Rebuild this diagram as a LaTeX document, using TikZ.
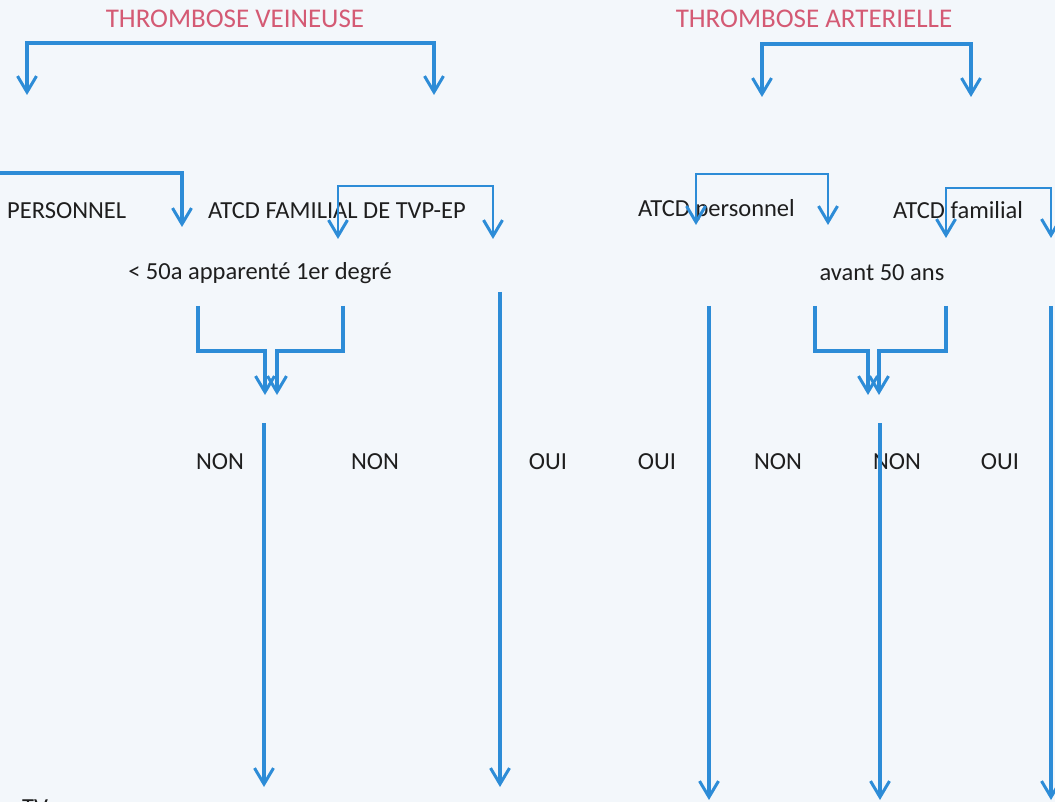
\documentclass[tikz,border=0pt]{standalone}
\usepackage{fontspec}
\setmainfont{Carlito}
\usetikzlibrary{arrows.meta}
\definecolor{bg}{RGB}{243,247,251}
\definecolor{ln}{RGB}{45,140,215}
\definecolor{ttl}{RGB}{212,90,116}
\definecolor{txt}{RGB}{30,30,30}
\tikzset{
  vtip/.tip={Straight Barb[length=16pt,width=19pt,line width=3pt].},
  thickln/.style={draw=ln,line width=3.5pt,line join=miter},
  thinln/.style={draw=ln,line width=2pt,line join=miter},
  title/.style={text=ttl,font=\fontsize{27}{30}\selectfont,inner sep=0pt},
  lbl/.style={text=txt,font=\fontsize{24.5}{28}\selectfont,inner sep=0pt},
}
\begin{document}
\begin{tikzpicture}[x=1pt,y=-1pt]
\fill[bg] (0,0) rectangle (1055,802);
\useasboundingbox (0,0) rectangle (1055,802);
% titles
\node[title] (tv) at (235,19) {THROMBOSE VEINEUSE};
\node[title] (ta) at (814,19) {THROMBOSE ARTERIELLE};
% row 2 labels
\node[lbl,anchor=west] (pers) at (7,211) {PERSONNEL};
\node[lbl,anchor=west] (fam) at (208,211) {ATCD FAMILIAL DE TVP-EP};
\node[lbl] (app) at (260,273) {< 50a apparenté 1er degré};
\node[lbl,anchor=west] (atcdp) at (638,210) {ATCD personnel};
\node[lbl,anchor=west] (atcdf) at (893,210) {ATCD familial};
\node[lbl] (avant) at (882,273) {avant 50 ans};
% answers
\node[lbl] (n1) at (220,462) {NON};
\node[lbl] (n2) at (375,462) {NON};
\node[lbl] (o1) at (548,462) {OUI};
\node[lbl] (o2) at (657,462) {OUI};
\node[lbl] (n3) at (778,462) {NON};
\node[lbl] (n4) at (897,462) {NON};
\node[lbl] (o3) at (1000,462) {OUI};
\node[lbl,anchor=base west] (tvb) at (22,815) {TV};
% coordinates
\coordinate (a1) at (27,95);   \coordinate (a2) at (434,95);
\coordinate (b1) at (762,97);  \coordinate (b2) at (971,97);
\coordinate (c0) at (0,173);   \coordinate (c1) at (182,227);
\coordinate (d1) at (338,239); \coordinate (d2) at (493,239);
\coordinate (e1) at (696,225); \coordinate (e2) at (828,225);
\coordinate (f1) at (946,238); \coordinate (f2) at (1051,238);
\coordinate (g1) at (198,306); \coordinate (g2) at (343,306);
\coordinate (gl) at (265,395); \coordinate (gr) at (277,395);
\coordinate (h1) at (815,306); \coordinate (h2) at (946,306);
\coordinate (hl) at (868,395); \coordinate (hr) at (879,395);
% top brackets
\draw[thickln,{vtip}-{vtip}] (a1) -- (27,43) -- (434,43) -- (a2);
\draw[thickln,{vtip}-{vtip}] (b1) -- (762,44) -- (971,44) -- (b2);
% row 2
\draw[thickln,-{vtip}] (c0) -- (182,173) -- (c1);
\draw[thinln,{vtip}-{vtip}] (d1) -- (338,186) -- (493,186) -- (d2);
\draw[thinln,{vtip}-{vtip}] (e1) -- (696,174) -- (828,174) -- (e2);
\draw[thinln,{vtip}-{vtip}] (f1) -- (946,188) -- (1051,188) -- (f2);
% merges
\draw[thickln,-{vtip}] (g1) -- (198,351) -- (265,351) -- (gl);
\draw[thickln,-{vtip}] (g2) -- (343,351) -- (277,351) -- (gr);
\draw[thickln,-{vtip}] (h1) -- (815,351) -- (868,351) -- (hl);
\draw[thickln,-{vtip}] (h2) -- (946,351) -- (879,351) -- (hr);
% long verticals
\draw[thickln,-{vtip}] (264,423) coordinate (v1s) -- (264,787) coordinate (v1e);
\draw[thickln,-{vtip}] (500,292) coordinate (v2s) -- (500,787) coordinate (v2e);
\draw[thickln,-{vtip}] (709,306) coordinate (v3s) -- (709,800) coordinate (v3e);
\draw[thickln,-{vtip}] (880,423) coordinate (v4s) -- (880,800) coordinate (v4e);
\draw[thickln,-{vtip}] (1051,306) coordinate (v5s) -- (1051,800) coordinate (v5e);
\end{tikzpicture}
\end{document}
